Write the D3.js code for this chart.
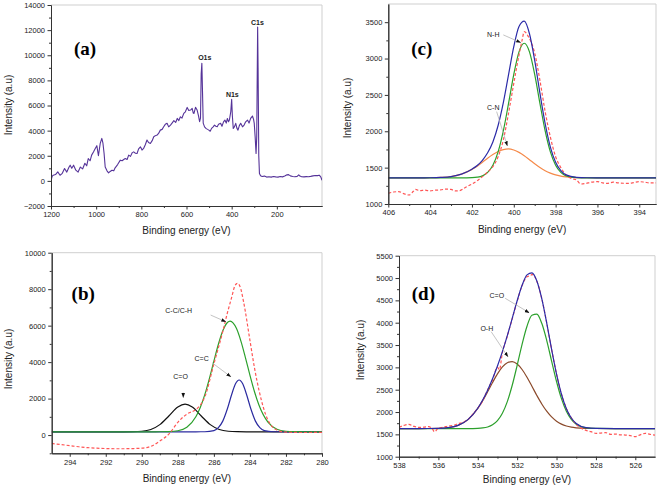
<!DOCTYPE html>
<html><head><meta charset="utf-8">
<script src="https://cdn.jsdelivr.net/npm/d3@7"></script>
<style>
body{margin:0;background:#fff}
svg{display:block;font-family:"Liberation Sans",Arial,sans-serif}
</style>
</head><body>
<svg id="chart" width="660" height="487"></svg>
<script>
// ---------- Panel (a): survey spectrum ----------
const surveyEnergy = [1200,1195,1190,1180,1170,1160,1150,1140,1130,1120,1115,1108,1100,1090,1080,1070,1060,1050,1042,1035,1027,1020,1012,1004,997,990,982,975,970,965,960,952,945,938,930,922,916,905,893,885,878,871,863,856,848,840,834,826,819,812,804,797,790,782,775,768,760,752,745,738,730,723,716,708,701,694,686,679,671,664,656,648,641,634,627,620,612,605,597,590,582,575,570,567,560,553,547,542,538,535,532,529,526,520,514,507,501,495,489,482,476,470,464,458,449,443,436,430,424,419,414,410,404,400,397,393,388,382,377,372,366,360,352,345,338,330,323,316,308,303,300,296,292,289,287,285,283,280,277,272,265,255,245,235,225,215,205,195,185,175,165,155,148,140,130,120,110,103,98,90,80,70,60,50,40,30,20,12,5,0];
const surveyIntensity = [0,350,450,500,720,450,600,980,700,1100,1250,1000,1250,850,700,1100,950,1400,1200,1780,1600,2050,2300,2580,2800,2000,2980,3380,3000,2200,1100,800,640,750,850,800,1040,1300,1650,1600,1700,1780,1700,2050,1950,2250,2310,2200,2180,2550,2710,2450,2580,2900,3250,3050,2980,3200,3510,3600,3650,3800,4040,4100,4310,4500,4580,4300,4440,4600,4790,4650,4970,4800,5100,5000,5370,5500,5850,5600,5640,5770,5400,5370,5850,5640,5200,4710,5000,8500,9360,7000,4600,4300,4180,4100,4040,3950,4180,4300,4440,4350,4310,4500,4580,4350,4700,4840,4600,4970,4710,4850,5500,6490,5200,4180,4300,4580,4200,4040,4400,4580,4300,4440,4700,4840,4600,4970,5160,4900,4580,3500,2180,3500,8000,12240,9000,2000,585,400,350,380,300,330,300,350,320,300,350,320,380,480,500,400,350,330,360,480,380,330,320,340,330,360,400,430,420,450,300,50];
const surveyPeakLabels = ["O1s","N1s","C1s"];
const surveyPeakLabelPos = [[519,9840],[397,6890],[286,12590]];
const surveyXTicks = [1200,1000,800,600,400,200];
const surveyXMinor = [1100,900,700,500,300,100];
const surveyYTicks = [-2000,0,2000,4000,6000,8000,10000,12000,14000];
const surveyYMinor = [-1000,1000,3000,5000,7000,9000,11000,13000];

// ---------- Panel (b): C1s ----------
const c1sExpEnergy = [295,294.5,294,293.5,293,292.5,292,291.5,291,290.5,290,289.5,289,288.5,288,287.5,287,286.75,286.5,286,285.5,285.25,285,284.85,284.7,284.55,284.35,284,283.75,283.5,283.25,283,282.75,282.5,282,281,280];
const c1sExpIntensity = [-460,-520,-580,-640,-690,-720,-740,-750,-750,-740,-720,-620,-330,50,700,1150,1400,1650,2100,3900,5700,6700,7600,8150,8320,8150,7300,5200,3700,2470,1500,820,450,280,160,140,150];
const c1sCCEnergy = [295,291,290,289.5,289,288.5,288,287.5,287,286.75,286.5,286.25,286,285.75,285.5,285.25,285.1,284.75,284.5,284.25,284,283.75,283.5,283,282.5,282,281.5,281,280];
const c1sCCIntensity = [180,180,180,180,181,190,238,429,1000,1523,2229,3097,4053,4982,5734,6175,6250,5852,5152,4249,3288,2391,1649,708,323,210,185,180,180];
const c1sCdCEnergy = [295,287,286.5,286,285.75,285.5,285.25,285,284.8,284.6,284.4,284.2,283.95,283.7,283.45,283.2,282.7,282,280];
const c1sCdCIntensity = [180,180,183,245,403,778,1440,2267,2810,3020,2810,2267,1440,778,403,245,183,180,180];
const c1sCOEnergy = [295,291,290.5,290,289.5,289,288.5,288,287.6,287.2,286.7,286.2,285.7,285.2,284.7,284.2,280];
const c1sCOIntensity = [180,180,185,208,305,572,1048,1541,1700,1541,1048,572,305,208,185,180,180];
const c1sXTicks = [294,292,290,288,286,284,282,280];
const c1sXMinor = [293,291,289,287,285,283,281];
const c1sYTicks = [0,2000,4000,6000,8000,10000];
const c1sYMinor = [-1000,1000,3000,5000,7000,9000];
const c1sLabels = ["C-C/C-H","C=C","C=O"];
const c1sLabelPos = [[287.95,6818],[286.68,4207],[287.85,3198]];
const c1sArrows = [[[286.18,6582],[285.34,6215]],[[286.1,3966],[285.06,3198]],[[287.7,2330],[287.7,2060]]];

// ---------- Panel (c): N1s ----------
const n1sEnergy = [406,405,404.5,404,403.5,403,402.5,402,401.75,401.5,401.25,401,400.75,400.5,400.25,400,399.75,399.5,399.25,399,398.75,398.5,398.25,398,397.75,397.5,397,396.5,396,395,394,393.2];
const n1sNH = [1360,1360,1360,1360,1360,1360,1360,1363,1369,1387,1434,1533,1717,2006,2383,2782,3092,3210,3092,2782,2383,2006,1717,1533,1434,1387,1363,1360,1360,1360,1360,1360];
const n1sCN = [1360,1360,1360,1361,1365,1377,1411,1476,1520,1574,1630,1680,1722,1748,1757,1742,1710,1664,1609,1553,1501,1458,1425,1400,1384,1373,1364,1361,1360,1360,1360,1360];
const n1sEnvelope = [1360,1360,1360,1361,1365,1377,1411,1479,1529,1601,1704,1853,2079,2394,2780,3164,3442,3514,3341,2975,2524,2104,1782,1573,1458,1400,1367,1361,1360,1360,1360,1360];
const n1sExpEnergy = [406,405.75,405.5,405.25,405,404.8,404.7,404.5,404.25,404,403.75,403.5,403.25,403,402.8,402.6,402.3,402,401.75,401.5,401.25,401,400.75,400.5,400.25,400,399.75,399.6,399.5,399.3,399,398.75,398.5,398.25,398,397.75,397.5,397.25,397,396.8,396.6,396.3,396,395.75,395.5,395.25,395,394.75,394.5,394.25,394,393.75,393.5,393.2];
const n1sExpIntensity = [1147,1165,1170,1140,1124,1175,1200,1183,1190,1180,1190,1193,1205,1200,1180,1183,1230,1275,1320,1376,1440,1514,1650,1880,2250,2660,3050,3257,3370,3300,3075,2700,2270,1920,1650,1500,1400,1350,1330,1275,1280,1300,1307,1290,1284,1300,1290,1285,1284,1295,1307,1300,1290,1290];
const n1sXTicks = [406,404,402,400,398,396,394];
const n1sXMinor = [405,403,401,399,397,395];
const n1sYTicks = [1000,1500,2000,2500,3000,3500];
const n1sYMinor = [1250,1750,2250,2750,3250];
const n1sLabels = ["N-H","C-N"];
const n1sLabelPos = [[400.98,3335],[400.98,2331]];
const n1sArrows = [[[400.5,3325],[399.67,3220]],[[400.82,2270],[400.31,1802]]];

// ---------- Panel (d): O1s ----------
const o1sEnergy = [538,537,536.5,536,535.5,535,534.5,534,533.75,533.5,533.25,533,532.75,532.5,532.25,532,531.75,531.5,531.25,531,530.75,530.5,530.25,530,529.75,529.5,529.25,529,528.5,528,527,525];
const o1sCO = [1630,1630,1630,1630,1630,1630,1630,1635,1644,1666,1714,1808,1973,2234,2599,3046,3516,3922,4167,4191,3986,3606,3141,2683,2299,2017,1835,1728,1647,1632,1630,1630];
const o1sOH = [1630,1630,1631,1635,1651,1702,1830,2080,2255,2453,2660,2853,3009,3105,3129,3075,2952,2779,2577,2372,2181,2019,1890,1795,1730,1687,1661,1646,1634,1631,1630,1630];
const o1sEnvelope = [1630,1630,1631,1635,1651,1702,1831,2085,2269,2489,2744,3031,3352,3709,4098,4491,4838,5071,5114,4933,4537,3995,3401,2848,2399,2074,1866,1744,1651,1633,1630,1630];
const o1sExpEnergy = [538,537.75,537.5,537.25,537,536.75,536.5,536.3,536.2,536,535.75,535.5,535.25,535,534.75,534.5,534.25,534,533.75,533.5,533.25,533,532.9,532.75,532.5,532.25,532,531.75,531.5,531.3,531.25,531,530.75,530.5,530.25,530,529.75,529.5,529.25,529,528.75,528.5,528.25,528,527.75,527.5,527.25,527,526.75,526.5,526.25,526,525.75,525.5,525.25,525];
const o1sExpIntensity = [1657,1700,1724,1680,1657,1660,1672,1620,1560,1640,1660,1687,1700,1740,1770,1830,1950,2085,2250,2500,2720,3000,2950,3330,3700,4090,4480,4830,5030,5060,5080,4930,4540,4000,3400,2850,2400,2080,1870,1720,1640,1590,1560,1522,1530,1537,1500,1507,1490,1485,1470,1448,1490,1522,1500,1485];
const o1sXTicks = [538,536,534,532,530,528,526];
const o1sXMinor = [537,535,533,531,529,527];
const o1sYTicks = [1000,1500,2000,2500,3000,3500,4000,4500,5000,5500];
const o1sYMinor = [1250,1750,2250,2750,3250,3750,4250,4750,5250];
const o1sLabels = ["C=O","O-H"];
const o1sLabelPos = [[533.03,4605],[533.54,3875]];
const o1sArrows = [[[532.61,4547],[531.39,4224]],[[533.32,3799],[532.47,3239]]];

const panelLetters = ["(a)","(b)","(c)","(d)"];
const panelLetterPos = [[1049,10553],[293.25,7789],[404.4,3142],[536.76,4659]];

// ---------- drawing ----------
const svg = d3.select("#chart");
const defs = svg.append("defs");
defs.append("marker").attr("id","ah").attr("viewBox","0 0 10 10").attr("refX",9).attr("refY",5)
  .attr("markerWidth",5).attr("markerHeight",5).attr("markerUnits","userSpaceOnUse").attr("orient","auto")
  .append("path").attr("d","M0,1.5 L10,5 L0,8.5 Z").attr("fill","#111");

const SANS = '"Liberation Sans", Arial, sans-serif';
const SERIF = '"Liberation Serif", "Times New Roman", serif';

function panel(o) {
  const x = d3.scaleLinear().domain(o.xDomain).range([o.left, o.right]);
  const y = d3.scaleLinear().domain(o.yDomain).range([o.bottom, o.top]);
  const g = svg.append("g");
  g.append("line").attr("x1",o.left).attr("x2",o.right).attr("y1",o.top).attr("y2",o.top).attr("stroke","#cfcfcf").attr("stroke-width",1);
  g.append("line").attr("x1",o.right).attr("x2",o.right).attr("y1",o.top).attr("y2",o.bottom).attr("stroke","#cfcfcf").attr("stroke-width",1);

  const clipId = "clip" + o.id;
  defs.append("clipPath").attr("id",clipId).append("rect")
    .attr("x",o.left).attr("y",o.top).attr("width",o.right-o.left).attr("height",o.bottom-o.top);
  const plot = g.append("g").attr("clip-path",`url(#${clipId})`);
  o.series.forEach(s => {
    const line = d3.line().x((d,i)=>x(s.e[i])).y(d=>y(d)).curve(s.curve || d3.curveMonotoneX);
    plot.append("path").datum(s.v).attr("d",line).attr("fill","none")
      .attr("stroke",s.color).attr("stroke-width",s.width||1.2)
      .attr("stroke-dasharray",s.dash||null).attr("stroke-linejoin","round");
  });

  const style = sel => {
    sel.select(".domain").attr("stroke","#333");
    sel.selectAll(".tick line").attr("stroke","#333");
    sel.selectAll("text").style("font-size","7.5px").style("font-family",SANS).attr("fill","#222");
  };
  g.append("g").attr("transform",`translate(0,${o.bottom})`)
    .call(d3.axisBottom(x).tickValues(o.xMinor).tickSize(2).tickFormat("").tickSizeOuter(0)).call(style);
  g.append("g").attr("transform",`translate(0,${o.bottom})`)
    .call(d3.axisBottom(x).tickValues(o.xTicks).tickSize(3.5).tickPadding(2.5).tickSizeOuter(0).tickFormat(d3.format("d"))).call(style);
  g.append("g").attr("transform",`translate(${o.left},0)`)
    .call(d3.axisLeft(y).tickValues(o.yMinor).tickSize(2).tickFormat("").tickSizeOuter(0)).call(style);
  g.append("g").attr("transform",`translate(${o.left},0)`)
    .call(d3.axisLeft(y).tickValues(o.yTicks).tickSize(3.5).tickPadding(2.5).tickSizeOuter(0).tickFormat(d3.format("d"))).call(style);

  g.append("text").attr("x",(o.left+o.right)/2).attr("y",o.xTitleY).attr("text-anchor","middle")
    .style("font-size","10px").style("font-family",SANS).attr("fill","#222").text("Binding energy (eV)");
  g.append("text").attr("transform",`translate(${o.yTitleX},${o.yTitleY}) rotate(-90)`).attr("text-anchor","middle")
    .attr("dominant-baseline","central").style("font-size","10px").style("font-family",SANS).attr("fill","#222").text("Intensity (a.u)");

  g.append("text").attr("x",x(o.letterPos[0])).attr("y",y(o.letterPos[1])).attr("text-anchor","middle")
    .attr("dominant-baseline","central").style("font-family",SERIF)
    .style("font-weight","bold").style("font-size","19px").attr("fill","#000").text(o.letter);

  (o.arrows||[]).forEach(a => {
    g.append("line").attr("x1",x(a[0][0])).attr("y1",y(a[0][1])).attr("x2",x(a[1][0])).attr("y2",y(a[1][1]))
      .attr("stroke","#b5b5b5").attr("stroke-width",0.8).attr("marker-end","url(#ah)");
  });
  (o.labels||[]).forEach((t,i) => {
    g.append("text").attr("x",x(o.labelPos[i][0])).attr("y",y(o.labelPos[i][1])).attr("text-anchor","middle")
      .attr("dominant-baseline","central").style("font-size",o.labelSize||"7px").style("font-family",SANS)
      .style("font-weight",o.labelWeight||"normal").attr("fill","#222").text(t);
  });
}

panel({id:"a", xDomain:[1200,0], yDomain:[-2000,14000], left:51, right:322, top:5, bottom:206,
  xTicks:surveyXTicks, xMinor:surveyXMinor, yTicks:surveyYTicks, yMinor:surveyYMinor,
  xTitleY:234, yTitleX:8, yTitleY:105, letter:panelLetters[0], letterPos:panelLetterPos[0],
  labels:surveyPeakLabels, labelPos:surveyPeakLabelPos, labelSize:"7px", labelWeight:"bold",
  series:[{e:surveyEnergy, v:surveyIntensity, color:"#553399", width:1.1, curve:d3.curveLinear}]});

panel({id:"b", xDomain:[295,280], yDomain:[-1000,10000], left:51.7, right:322, top:252.7, bottom:453.3,
  xTicks:c1sXTicks, xMinor:c1sXMinor, yTicks:c1sYTicks, yMinor:c1sYMinor,
  xTitleY:482, yTitleX:8, yTitleY:359, letter:panelLetters[1], letterPos:panelLetterPos[1],
  labels:c1sLabels, labelPos:c1sLabelPos, arrows:c1sArrows,
  series:[
    {e:c1sCOEnergy, v:c1sCOIntensity, color:"#111111"},
    {e:c1sCdCEnergy, v:c1sCdCIntensity, color:"#2b2ba0"},
    {e:c1sCCEnergy, v:c1sCCIntensity, color:"#2ca02c"},
    {e:c1sExpEnergy, v:c1sExpIntensity, color:"#ff5555", dash:"3,2"}
  ]});

panel({id:"c", xDomain:[406,393.2], yDomain:[1000,3750], left:388.3, right:656, top:4, bottom:204,
  xTicks:n1sXTicks, xMinor:n1sXMinor, yTicks:n1sYTicks, yMinor:n1sYMinor,
  xTitleY:233, yTitleX:347, yTitleY:108, letter:panelLetters[2], letterPos:panelLetterPos[2],
  labels:n1sLabels, labelPos:n1sLabelPos, arrows:n1sArrows,
  series:[
    {e:n1sEnergy, v:n1sCN, color:"#f58a4a"},
    {e:n1sEnergy, v:n1sNH, color:"#2ca02c"},
    {e:n1sExpEnergy, v:n1sExpIntensity, color:"#ff5555", dash:"3,2"},
    {e:n1sEnergy, v:n1sEnvelope, color:"#2b2ba8"}
  ]});

panel({id:"d", xDomain:[538,525], yDomain:[1000,5500], left:399, right:655, top:255.7, bottom:456.7,
  xTicks:o1sXTicks, xMinor:o1sXMinor, yTicks:o1sYTicks, yMinor:o1sYMinor,
  xTitleY:483, yTitleX:360, yTitleY:350, letter:panelLetters[3], letterPos:panelLetterPos[3],
  labels:o1sLabels, labelPos:o1sLabelPos, arrows:o1sArrows,
  series:[
    {e:o1sEnergy, v:o1sOH, color:"#8b4a2b"},
    {e:o1sEnergy, v:o1sCO, color:"#2ca02c"},
    {e:o1sExpEnergy, v:o1sExpIntensity, color:"#ff5555", dash:"3,2"},
    {e:o1sEnergy, v:o1sEnvelope, color:"#2b2ba8"}
  ]});
</script>
</body></html>
